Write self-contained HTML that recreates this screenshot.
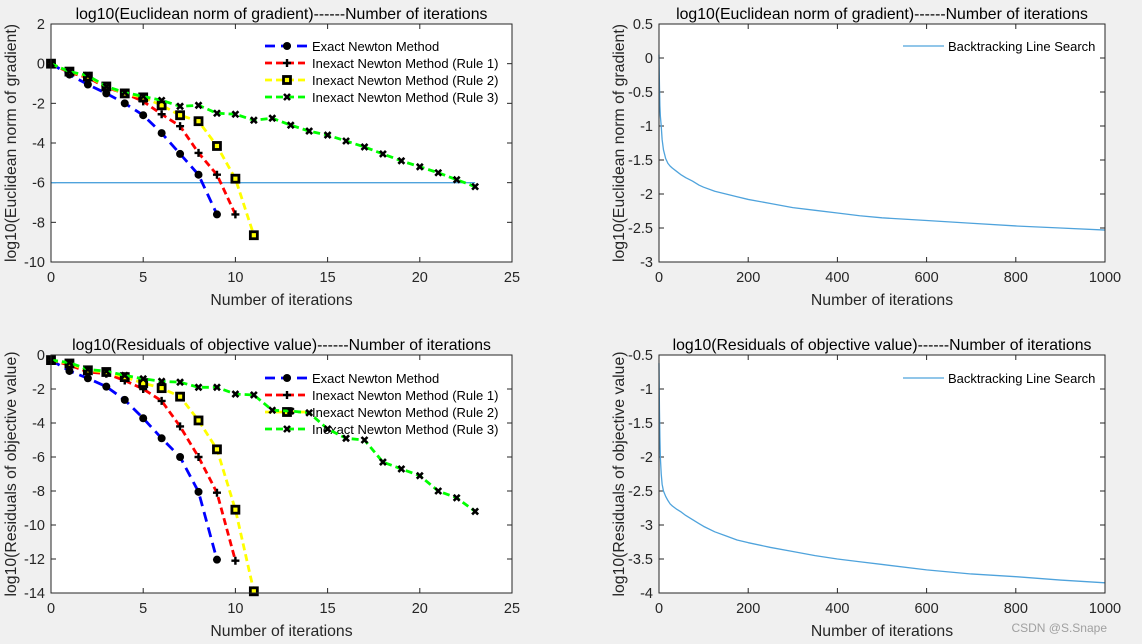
<!DOCTYPE html>
<html><head><meta charset="utf-8"><style>
body{margin:0;background:#f0f0f0;}
svg{display:block;font-family:"Liberation Sans",Arial,sans-serif;}
</style></head><body>
<svg id="fig" width="1142" height="644" viewBox="0 0 1142 644"></svg>
<script>
// ---- data ----
const itersExact = [0,1,2,3,4,5,6,7,8,9];
const itersRule1 = [0,1,2,3,4,5,6,7,8,9,10];
const itersRule2 = [0,1,2,3,4,5,6,7,8,9,10,11];
const itersRule3 = [0,1,2,3,4,5,6,7,8,9,10,11,12,13,14,15,16,17,18,19,20,21,22,23];
const gradExact = [0,-0.55,-1.05,-1.5,-2,-2.6,-3.5,-4.55,-5.6,-7.6];
const gradRule1 = [0,-0.45,-0.7,-1.2,-1.5,-1.9,-2.55,-3.15,-4.5,-5.6,-7.6];
const gradRule2 = [0,-0.4,-0.65,-1.15,-1.5,-1.7,-2.1,-2.6,-2.9,-4.15,-5.8,-8.65];
const gradRule3 = [0,-0.4,-0.6,-1.15,-1.45,-1.65,-1.85,-2.15,-2.1,-2.5,-2.55,-2.85,-2.75,-3.1,-3.4,-3.6,-3.9,-4.2,-4.55,-4.9,-5.2,-5.5,-5.85,-6.2];
const gradTol = -6;
const resExact = [-0.3,-0.94,-1.37,-1.86,-2.64,-3.72,-4.9,-6.0,-8.05,-12.04];
const resRule1 = [-0.3,-0.6,-1.0,-1.1,-1.5,-2.0,-2.7,-4.2,-6.0,-8.1,-12.1];
const resRule2 = [-0.3,-0.5,-0.9,-1.0,-1.3,-1.65,-1.95,-2.45,-3.85,-5.55,-9.1,-13.9];
const resRule3 = [-0.3,-0.45,-0.85,-0.95,-1.2,-1.4,-1.55,-1.6,-1.9,-1.9,-2.3,-2.35,-3.25,-3.3,-3.4,-4.35,-4.9,-5.0,-6.3,-6.7,-7.1,-8.0,-8.4,-9.2];
const btIters = [0,1,2,3,5,7,10,15,20,25,30,40,50,60,75,90,100,125,150,175,200,250,300,350,400,450,500,600,700,800,900,1000];
const btGrad = [0.05,-0.4,-0.7,-0.85,-1.0,-1.2,-1.35,-1.48,-1.55,-1.59,-1.62,-1.67,-1.72,-1.76,-1.81,-1.87,-1.9,-1.96,-2.0,-2.04,-2.08,-2.14,-2.2,-2.24,-2.28,-2.32,-2.35,-2.39,-2.43,-2.47,-2.5,-2.53];
const btRes = [-0.62,-1.3,-1.7,-2.0,-2.25,-2.4,-2.5,-2.58,-2.64,-2.69,-2.72,-2.77,-2.81,-2.86,-2.92,-2.98,-3.02,-3.1,-3.16,-3.22,-3.26,-3.33,-3.39,-3.45,-3.5,-3.54,-3.58,-3.66,-3.72,-3.76,-3.81,-3.85];
const xTicksL = [0,5,10,15,20,25];
const yTicksTL = [2,0,-2,-4,-6,-8,-10];
const yTicksBL = [0,-2,-4,-6,-8,-10,-12,-14];
const xTicksR = [0,200,400,600,800,1000];
const yTicksTR = [0.5,0,-0.5,-1,-1.5,-2,-2.5,-3];
const yTicksBR = [-0.5,-1,-1.5,-2,-2.5,-3,-3.5,-4];
const legendNames = ["Exact Newton Method","Inexact Newton Method (Rule 1)","Inexact Newton Method (Rule 2)","Inexact Newton Method (Rule 3)"];

const NS="http://www.w3.org/2000/svg";
const svg=document.getElementById('fig');
function mk(tag,attrs,parent,text){const e=document.createElementNS(NS,tag);for(const k in attrs)e.setAttribute(k,attrs[k]);if(text!==undefined)e.textContent=text;(parent||svg).appendChild(e);return e;}

function axes(name,x0,x1,y0,y1,xmin,xmax,ymin,ymax,xt,yt,title,ylabel){
  const g=mk('g',{});
  
  
  const sx=v=>x0+(v-xmin)/(xmax-xmin)*(x1-x0);
  const sy=v=>y1-(v-ymin)/(ymax-ymin)*(y1-y0);
  const bg=mk('rect',{x:x0,y:y0,width:x1-x0,height:y1-y0,fill:'#fff'},g);
  
  
  xt.forEach(v=>{const X=sx(v);
    mk('line',{x1:X,x2:X,y1:y1,y2:y1-5,stroke:'#262626'},g);
    mk('line',{x1:X,x2:X,y1:y0,y2:y0+5,stroke:'#262626'},g);
    const t=mk('text',{x:X,y:y1+20,'text-anchor':'middle','font-size':14.5,fill:'#262626'},g,String(v));
    
    
  });
  yt.forEach(v=>{const Y=sy(v);
    mk('line',{x1:x0,x2:x0+5,y1:Y,y2:Y,stroke:'#262626'},g);
    mk('line',{x1:x1,x2:x1-5,y1:Y,y2:Y,stroke:'#262626'},g);
    const t=mk('text',{x:x0-6,y:Y+5,'text-anchor':'end','font-size':14.5,fill:'#262626'},g,String(v));
    
    
  });
  const tt=mk('text',{x:(x0+x1)/2,y:y0-5,'text-anchor':'middle','font-size':15.8,fill:'#000'},g,title);
  
  
  const xl=mk('text',{x:(x0+x1)/2,y:y1+43,'text-anchor':'middle','font-size':15.8,fill:'#262626'},g,'Number of iterations');
  
  
  const yl=mk('text',{x:0,y:0,'text-anchor':'middle','font-size':15.8,fill:'#262626',transform:`translate(${x0-35},${(y0+y1)/2}) rotate(-90)`},g,ylabel);
  
  
  return {g,sx,sy,box:()=>{const b=mk('rect',{x:x0,y:y0,width:x1-x0,height:y1-y0,fill:'none',stroke:'#262626'},g);}};
}

const colors=['#0000ff','#ff0000','#ffff00','#00ff00'];
function marker(g,type,X,Y){
  if(type===0){mk('circle',{cx:X,cy:Y,r:4,fill:'#000'},g);}
  else if(type===1){mk('path',{d:`M${X-4} ${Y}H${X+4}M${X} ${Y-4}V${Y+4}`,stroke:'#000','stroke-width':2.4},g);}
  else if(type===2){mk('rect',{x:X-3.5,y:Y-3.5,width:7,height:7,fill:'#ffff00',stroke:'#000','stroke-width':2.8},g);}
  else {mk('path',{d:`M${X-3} ${Y-3}L${X+3} ${Y+3}M${X-3} ${Y+3}L${X+3} ${Y-3}`,stroke:'#000','stroke-width':2.6},g);}
}
function series(ax,xs,ys,k,name){
  const g=mk('g',{},ax.g);
  
  
  const d=xs.map((x,i)=>(i?'L':'M')+ax.sx(x)+' '+ax.sy(ys[i])).join('');
  mk('path',{d,fill:'none',stroke:colors[k],'stroke-width':2.8,'stroke-dasharray':k===0?'10,6':'7,4'},g);
  xs.forEach((x,i)=>marker(g,k,ax.sx(x),ax.sy(ys[i])));
}
function legendL(ax,ytop){
  legendNames.forEach((n,k)=>{
    const y=ytop+k*17;
    const g=mk('g',{},ax.g);
    
    
    mk('line',{x1:265,x2:308,y1:y,y2:y,stroke:colors[k],'stroke-width':2.8,'stroke-dasharray':k===0?'10,6':'7,4'},g);
    marker(g,k,287,y);
    mk('text',{x:312,y:y+5,'font-size':13,fill:'#000'},g,n);
  });
}
function legendR(ax,y){
  const g=mk('g',{},ax.g);
  
  
  mk('line',{x1:903,x2:944,y1:y,y2:y,stroke:'#4fa3dc','stroke-width':1.2},g);
  mk('text',{x:948,y:y+5,'font-size':13,fill:'#000'},g,'Backtracking Line Search');
}

// top-left
const a1=axes('gradient-newton-chart',51,512,24,262,0,25,-10,2,xTicksL,yTicksTL,'log10(Euclidean norm of gradient)------Number of iterations','log10(Euclidean norm of gradient)');
const tol=mk('line',{x1:a1.sx(0),x2:a1.sx(23),y1:a1.sy(gradTol),y2:a1.sy(gradTol),stroke:'#4fa3dc','stroke-width':1.3},a1.g);


series(a1,itersExact,gradExact,0,'series-exact');
series(a1,itersRule1,gradRule1,1,'series-rule1');
series(a1,itersRule2,gradRule2,2,'series-rule2');
series(a1,itersRule3,gradRule3,3,'series-rule3');
legendL(a1,46);
a1.box();

// bottom-left
const a2=axes('residual-newton-chart',51,512,355,593,0,25,-14,0,xTicksL,yTicksBL,'log10(Residuals of objective value)------Number of iterations','log10(Residuals of objective value)');
legendL(a2,378);
series(a2,itersExact,resExact,0,'series-exact');
series(a2,itersRule1,resRule1,1,'series-rule1');
series(a2,itersRule2,resRule2,2,'series-rule2');
series(a2,itersRule3,resRule3,3,'series-rule3');
a2.box();

function btLine(ax,ys){
  const d=btIters.map((x,i)=>(i?'L':'M')+ax.sx(x)+' '+ax.sy(ys[i])).join('');
  const p=mk('path',{d,fill:'none',stroke:'#4fa3dc','stroke-width':1.3,'stroke-linejoin':'round'},ax.g);
  
  
}
// top-right
const a3=axes('gradient-backtracking-chart',659,1105,24,262,0,1000,-3,0.5,xTicksR,yTicksTR,'log10(Euclidean norm of gradient)------Number of iterations','log10(Euclidean norm of gradient)');
btLine(a3,btGrad);legendR(a3,46);a3.box();
// bottom-right
const a4=axes('residual-backtracking-chart',659,1105,355,593,0,1000,-4,-0.5,xTicksR,yTicksBR,'log10(Residuals of objective value)------Number of iterations','log10(Residuals of objective value)');
btLine(a4,btRes);legendR(a4,378);a4.box();

const wm=mk('text',{x:1107,y:632,'text-anchor':'end','font-size':12,fill:'#a0a0a0'},svg,'CSDN @S.Snape');


</script>
</body></html>
